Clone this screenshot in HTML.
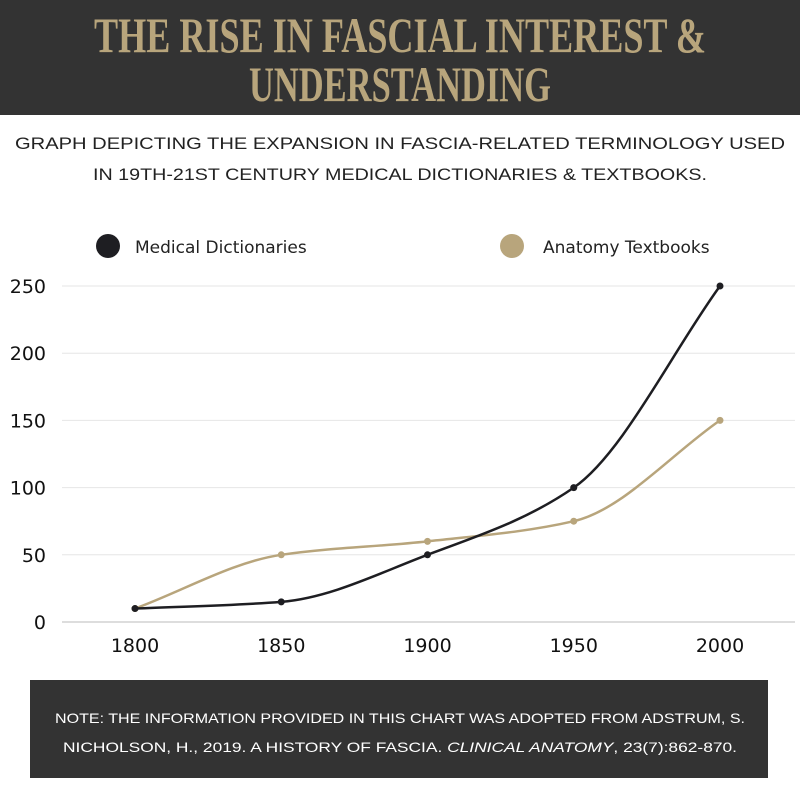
<!DOCTYPE html>
<html><head><meta charset="utf-8"><style>
html,body{margin:0;padding:0;background:#fff;}
svg{display:block;}
</style></head><body>
<svg width="800" height="800" viewBox="0 0 800 800">
<rect x="0" y="0" width="800" height="115" fill="#333333"/>
<text x="400" y="52" text-anchor="middle" font-family="Liberation Serif, serif" font-weight="bold" font-size="50" fill="#b8a57c" textLength="612" lengthAdjust="spacingAndGlyphs">THE RISE IN FASCIAL INTEREST &amp;</text>
<text x="400" y="101" text-anchor="middle" font-family="Liberation Serif, serif" font-weight="bold" font-size="50" fill="#b8a57c" textLength="302" lengthAdjust="spacingAndGlyphs">UNDERSTANDING</text>
<text x="400" y="149" text-anchor="middle" font-family="Liberation Sans, sans-serif" font-size="17" fill="#222" textLength="770" lengthAdjust="spacingAndGlyphs">GRAPH DEPICTING THE EXPANSION IN FASCIA-RELATED TERMINOLOGY USED</text>
<text x="400" y="180" text-anchor="middle" font-family="Liberation Sans, sans-serif" font-size="17" fill="#222" textLength="614" lengthAdjust="spacingAndGlyphs">IN 19TH-21ST CENTURY MEDICAL DICTIONARIES &amp; TEXTBOOKS.</text>
<g>
<circle cx="108" cy="246" r="12" fill="#1e1e22"/>
<text x="135" y="253" font-family="DejaVu Sans, sans-serif" font-size="17" fill="#222">Medical Dictionaries</text>
<circle cx="512" cy="246" r="12" fill="#b8a57c"/>
<text x="543" y="253" font-family="DejaVu Sans, sans-serif" font-size="17" fill="#222">Anatomy Textbooks</text>
</g>
<g id="grid"></g>
<g id="yticks"></g>
<g id="xticks"></g>
<g id="series"></g>
<rect x="30" y="680" width="738" height="98" fill="#333333"/>
<text x="400" y="723" text-anchor="middle" font-family="Liberation Sans, sans-serif" font-size="14" fill="#fff" textLength="690" lengthAdjust="spacingAndGlyphs">NOTE: THE INFORMATION PROVIDED IN THIS CHART WAS ADOPTED FROM ADSTRUM, S.</text>
<text x="400" y="752" text-anchor="middle" font-family="Liberation Sans, sans-serif" font-size="14" fill="#fff" textLength="674" lengthAdjust="spacingAndGlyphs">NICHOLSON, H., 2019. A HISTORY OF FASCIA. <tspan font-style="italic">CLINICAL ANATOMY</tspan>, 23(7):862-870.</text>
</svg>
<script>
const years = [1800, 1850, 1900, 1950, 2000];
const dictionaries = [10, 15, 50, 100, 250];
const textbooks = [10, 50, 60, 75, 150];
const yTicks = [0, 50, 100, 150, 200, 250];
const xTickLabels = ["1800", "1850", "1900", "1950", "2000"];

const NS = "http://www.w3.org/2000/svg";
const xS = v => 135 + (v - 1800) * (720 - 135) / 200;
const yS = v => 622 - v * (622 - 286) / 250;
function mk(tag, attrs, parent){const e=document.createElementNS(NS,tag);for(const k in attrs)e.setAttribute(k,attrs[k]);parent.appendChild(e);return e;}
const grid=document.getElementById('grid'), yt=document.getElementById('yticks'), xt=document.getElementById('xticks'), ser=document.getElementById('series');
yTicks.forEach(t=>{
  const l=mk('line',{x1:62,x2:795,y1:yS(t),y2:yS(t),stroke:t===0?'#bbb':'#e6e6e6','stroke-width':1},grid);
  
  
  const tx=mk('text',{x:46,y:yS(t)+7,'text-anchor':'end','font-family':'DejaVu Sans, sans-serif','font-size':19,fill:'#111'},yt);
  tx.textContent=t;
  
  
});
years.forEach((y,i)=>{
  const tx=mk('text',{x:xS(y),y:652,'text-anchor':'middle','font-family':'DejaVu Sans, sans-serif','font-size':19,fill:'#111'},xt);
  tx.textContent=xTickLabels[i];
  
  
});
function monotone(xs, ys){
  const n=xs.length, d=[], m=[];
  for(let i=0;i<n-1;i++) d.push((ys[i+1]-ys[i])/(xs[i+1]-xs[i]));
  m[0]=d[0]; m[n-1]=d[n-2];
  for(let i=1;i<n-1;i++){ m[i]=(d[i-1]*d[i]<=0)?0:3*(d[i-1]+d[i])/( (2*d[i]+d[i-1])/d[i-1]*0+ (1/d[i-1]+1/d[i])*((d[i-1]+d[i])/2)*0 + 0 + 3) ; m[i]=(d[i-1]*d[i]<=0)?0:2/(1/d[i-1]+1/d[i]); }
  let p='M'+xs[0]+','+ys[0];
  for(let i=0;i<n-1;i++){const h=(xs[i+1]-xs[i])/3;
    p+=' C'+(xs[i]+h)+','+(ys[i]+m[i]*h)+' '+(xs[i+1]-h)+','+(ys[i+1]-m[i+1]*h)+' '+xs[i+1]+','+ys[i+1];}
  return p;
}
function drawSeries(vals,color,name){
  const xs=years.map(xS), ys=vals.map(yS);
  const p=mk('path',{d:monotone(xs,ys),fill:'none',stroke:color,'stroke-width':2.5},ser);
  
  
  vals.forEach((v,i)=>{
    const c=mk('circle',{cx:xs[i],cy:ys[i],r:3.5,fill:color},ser);
    
    
  });
}
drawSeries(textbooks,'#b8a57c','textbooks');
drawSeries(dictionaries,'#1e1e22','dictionaries');
</script>
</body></html>
